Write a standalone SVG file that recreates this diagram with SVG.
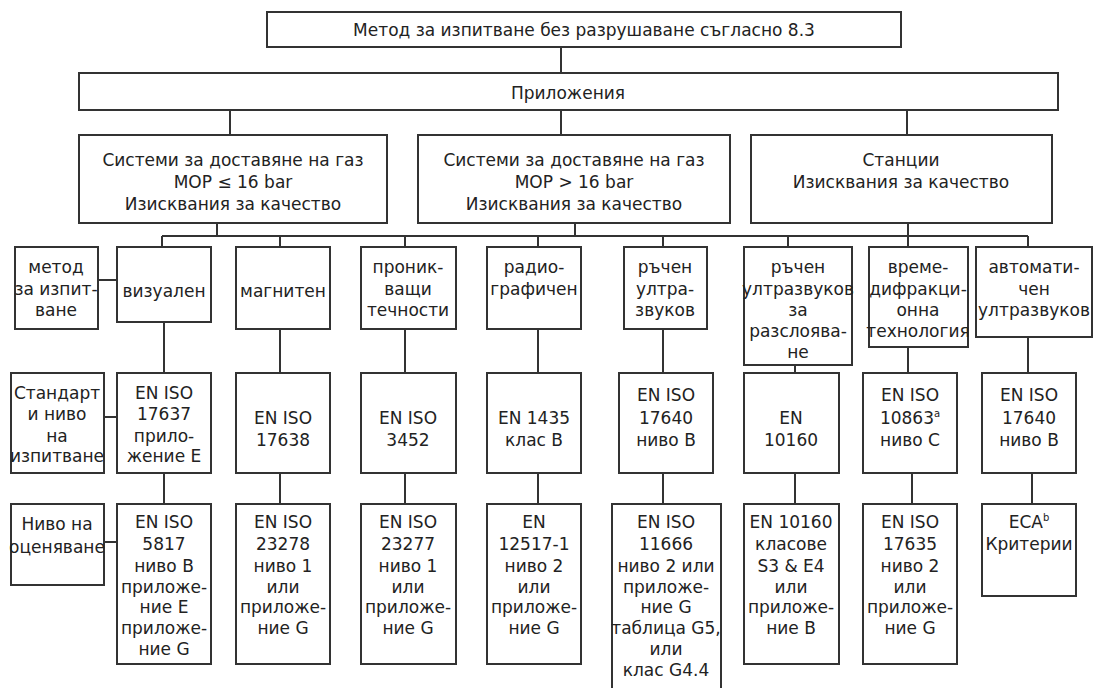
<svg xmlns="http://www.w3.org/2000/svg" width="1094" height="688" viewBox="0 0 1094 688">
<style>
.b{fill:#fff;stroke:#333;stroke-width:2}
.c{fill:none;stroke:#333;stroke-width:2}
text{font-family:"DejaVu Sans","Liberation Sans",sans-serif;fill:#222;text-anchor:middle}
.h{font-size:17px}
.t{font-size:17px}
.s{font-size:10px}
</style>
<rect width="1094" height="688" fill="#fff"/>
<g id="connectors">
<path class="c" d="M561 47V73 M230 110V135 M561 110V135 M907 110V135"/>
<path class="c" d="M217 223V236 M575 223V236 M908 223V236 M162 236H1028 M162 236V247 M280 236V247 M405 236V247 M538 236V247 M663 236V247 M788 236V247 M908 236V247 M1028 236V247"/>
<path class="c" d="M98 280H117 M104 417H117 M104 542H117"/>
<path class="c" d="M164 322V373 M280 329V373 M405 329V373 M538 329V373 M663 329V373 M795 355V373 M908 336V373 M1028 337V373"/>
<path class="c" d="M164 473V504 M280 473V504 M405 473V504 M538 473V504 M663 473V504 M795 473V504 M912 473V504 M1032 473V504"/>
</g>
<g id="n-top"><rect class="b" x="267" y="12" width="634" height="35"/><text class="h" x="584" y="36">Метод за изпитване без разрушаване съгласно 8.3</text></g>
<g id="n-app"><rect class="b" x="79" y="73" width="979" height="37"/><text class="h" x="568" y="99">Приложения</text></g>
<g id="n-sys1"><rect class="b" x="79" y="135" width="308" height="88"/><text class="h" x="233" y="166">Системи за доставяне на газ</text><text class="h" x="233" y="188">MOP ≤ 16 bar</text><text class="h" x="233" y="210">Изисквания за качество</text></g>
<g id="n-sys2"><rect class="b" x="418" y="135" width="312" height="88"/><text class="h" x="574" y="166">Системи за доставяне на газ</text><text class="h" x="574" y="188">MOP &gt; 16 bar</text><text class="h" x="574" y="210">Изисквания за качество</text></g>
<g id="n-st"><rect class="b" x="751" y="135" width="301" height="88"/><text class="h" x="901" y="166">Станции</text><text class="h" x="901" y="188">Изисквания за качество</text></g>

<g id="n-metod"><rect class="b" x="15" y="247" width="83" height="82"/><text class="t" x="56" y="273">метод</text><text class="t" x="56" y="295">за изпит-</text><text class="t" x="56" y="316">ване</text></g>
<g id="n-viz"><rect class="b" x="117" y="247" width="94" height="75"/><text class="t" x="164" y="297">визуален</text></g>
<g id="n-mag"><rect class="b" x="236" y="247" width="94" height="82"/><text class="t" x="283" y="297">магнитен</text></g>
<g id="n-pron"><rect class="b" x="361" y="247" width="95" height="82"/><text class="t" x="408" y="273">проник-</text><text class="t" x="408" y="295">ващи</text><text class="t" x="408" y="316">течности</text></g>
<g id="n-rad"><rect class="b" x="487" y="247" width="94" height="82"/><text class="t" x="534" y="273">радио-</text><text class="t" x="534" y="295">графичен</text></g>
<g id="n-ruch"><rect class="b" x="624" y="247" width="83" height="82"/><text class="t" x="665" y="273">ръчен</text><text class="t" x="665" y="295">ултра-</text><text class="t" x="665" y="316">звуков</text></g>
<g id="n-razs"><rect class="b" x="744" y="247" width="108" height="118"/><text class="t" x="798" y="273">ръчен</text><text class="t" x="798" y="295">ултразвуков</text><text class="t" x="798" y="316">за</text><text class="t" x="798" y="337">разслоява-</text><text class="t" x="798" y="358">не</text></g>
<g id="n-vreme"><rect class="b" x="869" y="247" width="99" height="100"/><text class="t" x="918" y="273">време-</text><text class="t" x="918" y="295">дифракци-</text><text class="t" x="918" y="316">онна</text><text class="t" x="918" y="337">технология</text></g>
<g id="n-avto"><rect class="b" x="976" y="247" width="116" height="90"/><text class="t" x="1034" y="273">автомати-</text><text class="t" x="1034" y="295">чен</text><text class="t" x="1034" y="316">ултразвуков</text></g>

<g id="n-std"><rect class="b" x="11" y="373" width="93" height="100"/><text class="t" x="57" y="399">Стандарт</text><text class="t" x="57" y="420">и ниво</text><text class="t" x="57" y="442">на</text><text class="t" x="57" y="462">изпитване</text></g>
<g id="n-17637"><rect class="b" x="117" y="373" width="94" height="100"/><text class="t" x="164" y="399">EN ISO</text><text class="t" x="164" y="420">17637</text><text class="t" x="164" y="442">прило-</text><text class="t" x="164" y="462">жение E</text></g>
<g id="n-17638"><rect class="b" x="236" y="373" width="94" height="100"/><text class="t" x="283" y="424">EN ISO</text><text class="t" x="283" y="446">17638</text></g>
<g id="n-3452"><rect class="b" x="361" y="373" width="95" height="100"/><text class="t" x="408" y="424">EN ISO</text><text class="t" x="408" y="446">3452</text></g>
<g id="n-1435"><rect class="b" x="487" y="373" width="94" height="100"/><text class="t" x="534" y="424">EN 1435</text><text class="t" x="534" y="446">клас B</text></g>
<g id="n-17640a"><rect class="b" x="619" y="373" width="94" height="100"/><text class="t" x="666" y="401">EN ISO</text><text class="t" x="666" y="424">17640</text><text class="t" x="666" y="446">ниво B</text></g>
<g id="n-10160"><rect class="b" x="744" y="373" width="95" height="100"/><text class="t" x="791" y="424">EN</text><text class="t" x="791" y="446">10160</text></g>
<g id="n-10863"><rect class="b" x="863" y="373" width="94" height="100"/><text class="t" x="910" y="401">EN ISO</text><text class="t" x="910" y="424">10863<tspan class="s" dy="-7">a</tspan></text><text class="t" x="910" y="446">ниво C</text></g>
<g id="n-17640b"><rect class="b" x="982" y="373" width="94" height="100"/><text class="t" x="1029" y="401">EN ISO</text><text class="t" x="1029" y="424">17640</text><text class="t" x="1029" y="446">ниво B</text></g>

<g id="n-eval"><rect class="b" x="11" y="504" width="93" height="81"/><text class="t" x="57" y="530">Ниво на</text><text class="t" x="57" y="553">оценяване</text></g>
<g id="n-5817"><rect class="b" x="117" y="504" width="94" height="160"/><text class="t" x="164" y="528">EN ISO</text><text class="t" x="164" y="550">5817</text><text class="t" x="164" y="572">ниво B</text><text class="t" x="164" y="593">приложе-</text><text class="t" x="164" y="613">ние E</text><text class="t" x="164" y="634">приложе-</text><text class="t" x="164" y="655">ние G</text></g>
<g id="n-23278"><rect class="b" x="236" y="504" width="94" height="160"/><text class="t" x="283" y="528">EN ISO</text><text class="t" x="283" y="550">23278</text><text class="t" x="283" y="572">ниво 1</text><text class="t" x="283" y="593">или</text><text class="t" x="283" y="613">приложе-</text><text class="t" x="283" y="634">ние G</text></g>
<g id="n-23277"><rect class="b" x="361" y="504" width="95" height="160"/><text class="t" x="408" y="528">EN ISO</text><text class="t" x="408" y="550">23277</text><text class="t" x="408" y="572">ниво 1</text><text class="t" x="408" y="593">или</text><text class="t" x="408" y="613">приложе-</text><text class="t" x="408" y="634">ние G</text></g>
<g id="n-12517"><rect class="b" x="487" y="504" width="94" height="160"/><text class="t" x="534" y="528">EN</text><text class="t" x="534" y="550">12517-1</text><text class="t" x="534" y="572">ниво 2</text><text class="t" x="534" y="593">или</text><text class="t" x="534" y="613">приложе-</text><text class="t" x="534" y="634">ние G</text></g>
<g id="n-11666"><rect class="b" x="612" y="504" width="109" height="200"/><text class="t" x="666" y="528">EN ISO</text><text class="t" x="666" y="550">11666</text><text class="t" x="666" y="572">ниво 2 или</text><text class="t" x="666" y="593">приложе-</text><text class="t" x="666" y="613">ние G</text><text class="t" x="666" y="634">таблица G5,</text><text class="t" x="666" y="655">или</text><text class="t" x="666" y="676">клас G4.4</text></g>
<g id="n-10160k"><rect class="b" x="744" y="504" width="95" height="160"/><text class="t" x="791" y="528">EN 10160</text><text class="t" x="791" y="550">класове</text><text class="t" x="791" y="572">S3 &amp; E4</text><text class="t" x="791" y="593">или</text><text class="t" x="791" y="613">приложе-</text><text class="t" x="791" y="634">ние B</text></g>
<g id="n-17635"><rect class="b" x="863" y="504" width="94" height="160"/><text class="t" x="910" y="528">EN ISO</text><text class="t" x="910" y="550">17635</text><text class="t" x="910" y="572">ниво 2</text><text class="t" x="910" y="593">или</text><text class="t" x="910" y="613">приложе-</text><text class="t" x="910" y="634">ние G</text></g>
<g id="n-eca"><rect class="b" x="982" y="504" width="94" height="92"/><text class="t" x="1029" y="528">ECA<tspan class="s" dy="-7">b</tspan></text><text class="t" x="1029" y="550">Критерии</text></g>
</svg>
